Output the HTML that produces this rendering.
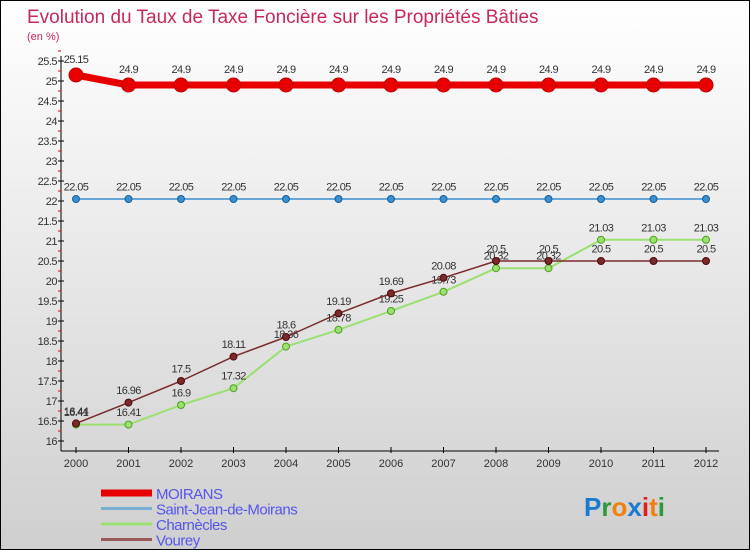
<!DOCTYPE html>
<html><head><meta charset="utf-8"><style>
body{margin:0}
#c{position:relative;width:748px;height:548px;border:1px solid #000;background:linear-gradient(#fff,#cfcfcf);font-family:"Liberation Sans",sans-serif;overflow:hidden}
</style></head><body>
<div id="c">
<svg id="s" width="748" height="548" style="position:absolute;left:0;top:0">
<text x="26" y="22" font-size="19" fill="#c8285a">Evolution du Taux de Taxe Foncière sur les Propriétés Bâties</text>
<text x="26" y="39" font-size="11" fill="#c8285a">(en %)</text>
</svg>
</div>
<script>
const years=[2000,2001,2002,2003,2004,2005,2006,2007,2008,2009,2010,2011,2012];
const moirans=[25.15,24.9,24.9,24.9,24.9,24.9,24.9,24.9,24.9,24.9,24.9,24.9,24.9];
const sjdm=[22.05,22.05,22.05,22.05,22.05,22.05,22.05,22.05,22.05,22.05,22.05,22.05,22.05];
const charnecles=[16.41,16.41,16.9,17.32,18.36,18.78,19.25,19.73,20.32,20.32,21.03,21.03,21.03];
const vourey=[16.44,16.96,17.5,18.11,18.6,19.19,19.69,20.08,20.5,20.5,20.5,20.5,20.5];
const yTicks=[16,16.5,17,17.5,18,18.5,19,19.5,20,20.5,21,21.5,22,22.5,23,23.5,24,24.5,25,25.5];
const NS="http://www.w3.org/2000/svg",s=document.getElementById('s');
const X=i=>75+i*52.5, Y=v=>440-(v-16)*40;
function el(t,a,p){const e=document.createElementNS(NS,t);for(const k in a)e.setAttribute(k,a[k]);(p||s).appendChild(e);return e;}
// axes
let ax=el('line',{x1:60,y1:55,x2:60,y2:450,stroke:'#000','stroke-width':1});

let bx=el('line',{x1:60,y1:450,x2:718,y2:450,stroke:'#000','stroke-width':1});

yTicks.forEach(v=>{
 el('line',{x1:57,y1:Y(v),x2:63,y2:Y(v),stroke:'#000'});
 el('line',{x1:57,y1:Y(v+0.25),x2:60,y2:Y(v+0.25),stroke:'#e00'});
 const t=el('text',{x:56,y:Y(v)+4,'text-anchor':'end','font-size':11,fill:'#333','letter-spacing':'-0.5'});t.textContent=String(v);
 
});
years.forEach((yr,i)=>{
 el('line',{x1:X(i),y1:446,x2:X(i),y2:452,stroke:'#000'});
 const t=el('text',{x:X(i),y:466,'text-anchor':'middle','font-size':11,fill:'#333'});t.textContent=yr;
 
});
function series(d,col,w,r,name,dark){
 const g=el('g',{});
 el('polyline',{points:d.map((v,i)=>X(i)+','+Y(v)).join(' '),fill:'none',stroke:col,'stroke-width':w,'stroke-linejoin':'round'},g);
 d.forEach((v,i)=>{
  const c=el('circle',{cx:X(i),cy:Y(v),r:r,fill:col,stroke:dark,'stroke-width':1},g);
  
  const t=el('text',{x:X(i),y:Y(v)-r-5,'text-anchor':'middle','font-size':11,fill:'#333','letter-spacing':'-0.6'},g);t.textContent=String(v);
 });
}
series(sjdm,'#3a8fd0',1.5,3.5,'saint-jean-de-moirans','#1a5f99');
series(charnecles,'#9be070',2,3.5,'charnecles','#4aa020');
series(vourey,'#7a2a2a',1.5,3.5,'vourey','#4a0a0a');
series(moirans,'#e80000',7,7,'moirans','#c00000');
const legend=[['MOIRANS','#e80000',7],['Saint-Jean-de-Moirans','#7aaed0',3],['Charnècles','#9be070',3],['Vourey','#9a5a5a',3]];
legend.forEach((l,i)=>{
 const y=492+i*15.5;
 const g=el('g',{});
 el('line',{x1:100,y1:y,x2:151,y2:y,stroke:l[1],'stroke-width':l[2]},g);
 const t=el('text',{x:155,y:y+6,'font-size':15,fill:'#5555ee','letter-spacing':'-0.5'},g);t.textContent=l[0];
});
const logo=[['P','#1a7ad0'],['r','#2a9a3a'],['o','#f08010'],['x','#1a7ad0'],['i','#e02020'],['t','#f08010'],['i','#2a9a3a']];
const lg=el('text',{x:583,y:515,'font-size':26,'font-weight':'bold'});
logo.forEach(p=>{const ts=el('tspan',{fill:p[1]},lg);ts.textContent=p[0];});
</script>
</body></html>
